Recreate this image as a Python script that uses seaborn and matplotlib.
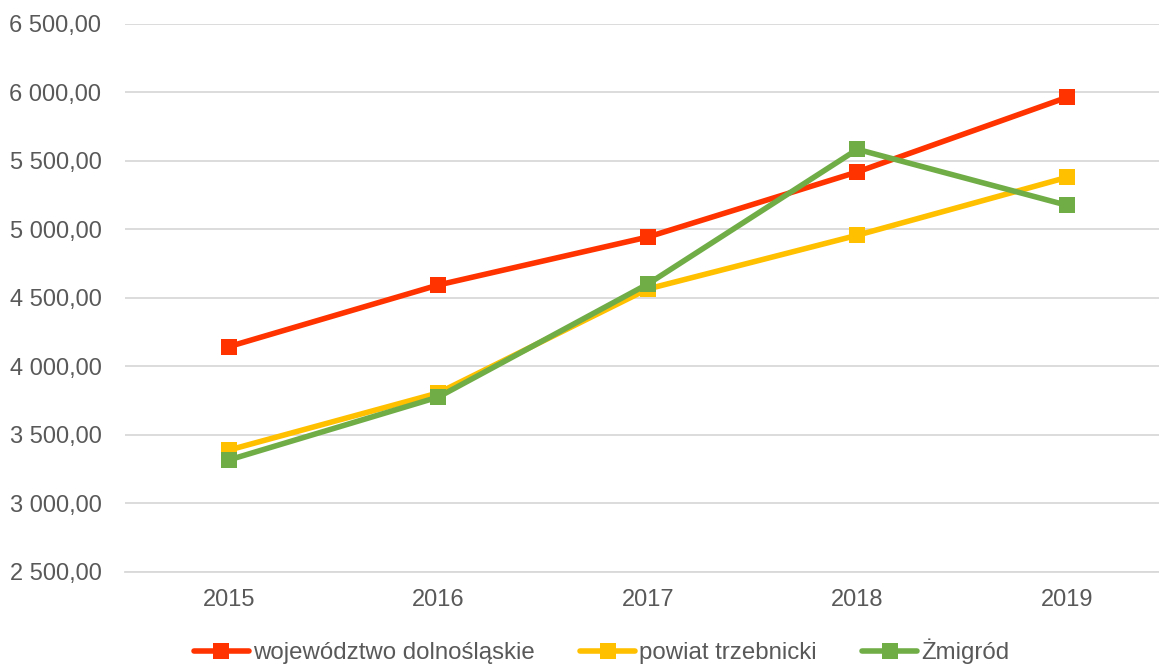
import pandas as pd
import seaborn as sns
import matplotlib.pyplot as plt
from matplotlib.ticker import FuncFormatter

years = [2015, 2016, 2017, 2018, 2019]
woj = [4145, 4595, 4945, 5420, 5964]
powiat = [3390, 3807, 4566, 4958, 5380]
zmigrod = [3318, 3777, 4602, 5585, 5177]
names = ['województwo dolnośląskie', 'powiat trzebnicki', 'Żmigród']
colors = ['#FF3300', '#FFC000', '#70AD47']

df = pd.DataFrame({'rok': years * 3,
                   'wartosc': woj + powiat + zmigrod,
                   'seria': [names[0]] * 5 + [names[1]] * 5 + [names[2]] * 5})

sns.set_style('white')
plt.rcParams['font.family'] = ['Liberation Sans', 'DejaVu Sans']

fig = plt.figure(figsize=(11.59, 6.64), dpi=100)
ax = fig.add_axes([0.1079, 0.1386, 0.8921, 0.8253])

sns.lineplot(data=df, x='rok', y='wartosc', hue='seria', hue_order=names,
             palette=colors, style='seria', markers=['s', 's', 's'], dashes=False,
             linewidth=4, markersize=11, markeredgewidth=0, ax=ax, legend=True)

ax.set_ylim(2500, 6500)
ax.set_yticks(range(2500, 6501, 500))
ax.set_xlim(2015 - 0.496, 2019 + 0.44)
ax.set_xticks(years)
ax.yaxis.set_major_formatter(FuncFormatter(lambda v, p: f'{v:,.2f}'.replace(',', ' ').replace('.', ',')))
ax.grid(axis='y', color='#D9D9D9', linewidth=1.3)
ax.set_axisbelow(True)
for s in ['top', 'right', 'left']:
    ax.spines[s].set_visible(False)
ax.spines['bottom'].set_color('#D9D9D9')
ax.spines['bottom'].set_linewidth(1.3)
ax.tick_params(axis='both', length=0, labelsize=17, colors='#595959')
ax.tick_params(axis='y', pad=17)
ax.tick_params(axis='x', pad=12)
ax.set_xlabel('')
ax.set_ylabel('')

handles, labels = ax.get_legend_handles_labels()
ax.get_legend().remove()
fig.legend(handles, labels, loc='center', bbox_to_anchor=(0.519, 0.019), ncol=3,
           frameon=False, fontsize=17.3, labelcolor='#595959', handlelength=2.3,
           handletextpad=0.15, columnspacing=1.9)

fig.savefig('out.png', dpi=100)
